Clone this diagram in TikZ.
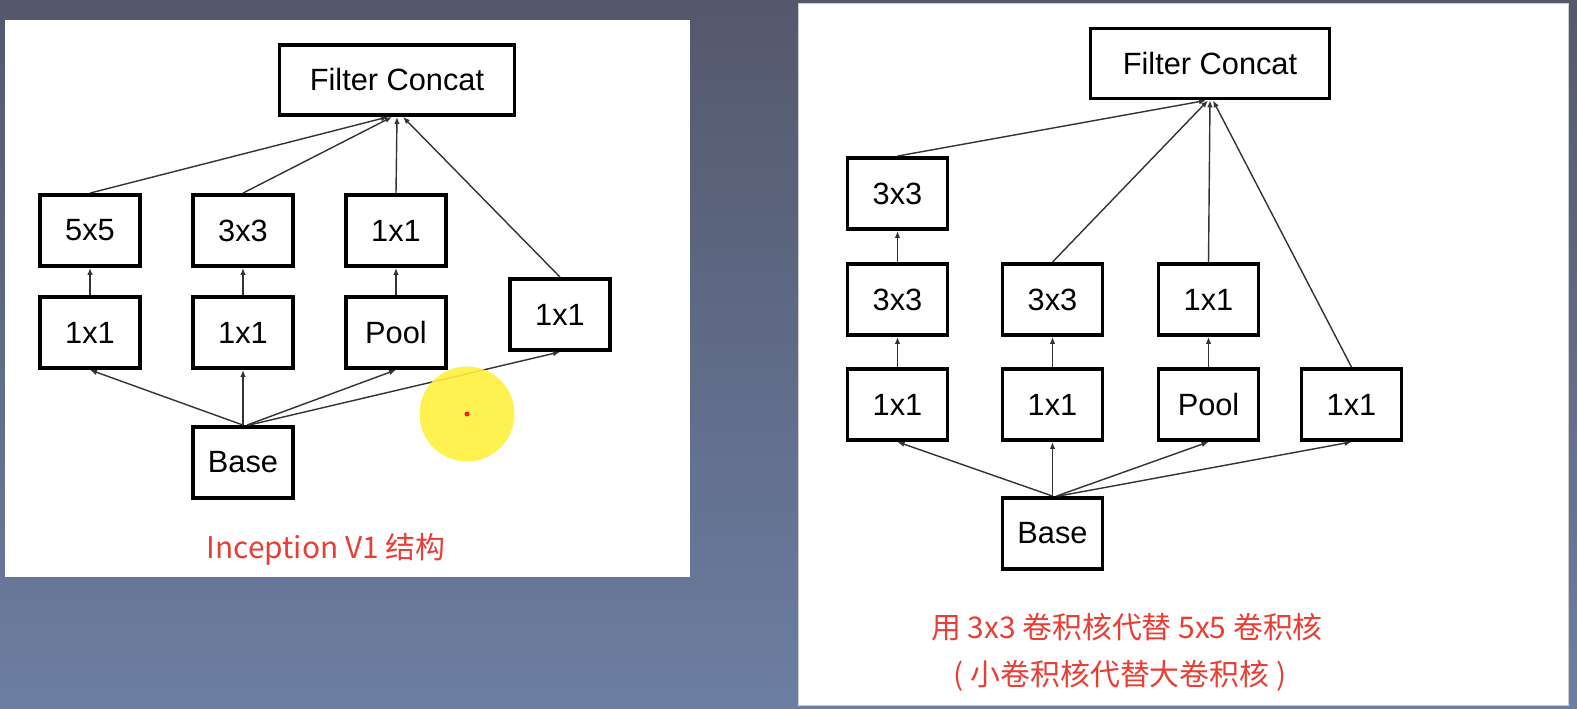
\documentclass[tikz,border=0pt]{standalone}
\usepackage{fontspec}
\setmainfont{Liberation Sans}
\newfontfamily\cjk{Noto Sans CJK SC}
\usepackage{tikz}
\usetikzlibrary{arrows.meta, positioning}

\definecolor{bgtop}{RGB}{84,88,108}
\definecolor{bgbot}{RGB}{108,126,162}
\definecolor{capred}{RGB}{232,62,52}
\definecolor{hilite}{RGB}{255,240,60}

\begin{document}
\begin{tikzpicture}[
    x=0.02cm, y=-0.02cm,
    box/.style={rectangle, draw, line width=2.2pt, fill=white,
                minimum width=2cm, minimum height=1.42cm,
                align=center, font=\fontsize{17.5}{20}\selectfont},
    wide/.style={box, minimum width=4.7cm, minimum height=1.4cm},
    arrow/.style={-{Latex[length=4pt, width=3.2pt]}, line width=0.8pt, draw=black!80},
    caption/.style={font=\cjk\fontsize{17}{20}\selectfont, text=capred, align=center},
  ]

  % background and the two slides (pixel coordinates)
  \shade[top color=bgtop, bottom color=bgbot] (0,0) rectangle (1577,709);
  \useasboundingbox (0,0) rectangle (1577,709);
  \fill[white] (5,20) rectangle (690,577);
  \fill[white, draw=black!20] (798,3) rectangle (1568,705);

  % column x-centres and row y-centres
  \def\xA{90}   \def\xB{243}  \def\xC{396}  \def\xD{560}
  \def\yTop{80} \def\yOne{230.5} \def\yTwo{332.5} \def\yBase{462.5}

  % ── Inception V1 ────────────────────────────────────────────
  \node[wide] (lFC) at (397,\yTop) {Filter Concat};

  \node[box] (lC5) at (\xA,\yOne) {5x5};
  \node[box] (lC3) at (\xB,\yOne) {3x3};
  \node[box] (lP1) at (\xC,\yOne) {1x1};

  \node[box] (lR5) at (\xA,\yTwo) {1x1};
  \node[box] (lR3) at (\xB,\yTwo) {1x1};
  \node[box] (lPool) at (\xC,\yTwo) {Pool};
  \node[box] (lS1) at (\xD,314.5) {1x1};

  \node[box] (lBase) at (\xB,\yBase) {Base};

  \draw[arrow] (lC5.north) -- ([xshift=-0.18cm]lFC.south);
  \draw[arrow] (lC3.north) -- ([xshift=-0.1cm]lFC.south);
  \draw[arrow] (lP1.north) -- (lFC.south);
  \draw[arrow] (lS1.north) -- ([xshift=0.12cm]lFC.south);

  \draw[arrow] (lR5.north) -- (lC5.south);
  \draw[arrow] (lR3.north) -- (lC3.south);
  \draw[arrow] (lPool.north) -- (lP1.south);

  \draw[arrow] (lBase.north) -- (lR5.south);
  \draw[arrow] (lBase.north) -- (lR3.south);
  \draw[arrow] ([xshift=0.08cm]lBase.north) -- (lPool.south);
  \draw[arrow] ([xshift=0.12cm]lBase.north) -- (lS1.south);

  \node[caption] (lCap) at (326,549) {Inception V1 结构};

  % cursor highlight
  \fill[hilite, opacity=0.9] (467,414) circle (0.95cm);
  \fill[red!80!orange] (467,414) circle (0.05cm);

  % ── 3x3 instead of 5x5 ──────────────────────────────────────
  \def\xE{897.5} \def\xF{1052.5} \def\xG{1208.5} \def\xH{1351.5}
  \def\yTopR{63.5} \def\yA{193.5} \def\yB{299.5} \def\yC{404.5} \def\yBaseR{533.5}

  \node[wide, minimum width=4.78cm] (rFC) at (1210,\yTopR) {Filter Concat};

  \node[box] (rT3) at (\xE,\yA) {3x3};

  \node[box] (rM3a) at (\xE,\yB) {3x3};
  \node[box] (rM3b) at (\xF,\yB) {3x3};
  \node[box] (rM1)  at (\xG,\yB) {1x1};

  \node[box] (rB1a) at (\xE,\yC) {1x1};
  \node[box] (rB1b) at (\xF,\yC) {1x1};
  \node[box] (rPool) at (\xG,\yC) {Pool};
  \node[box] (rB1c) at (\xH,\yC) {1x1};

  \node[box] (rBase) at (\xF,\yBaseR) {Base};

  \draw[arrow] (rT3.north) -- ([xshift=-0.08cm]rFC.south);
  \draw[arrow] (rM3b.north) -- ([xshift=-0.04cm]rFC.south);
  \draw[arrow] (rM1.north) -- (rFC.south);
  \draw[arrow] (rB1c.north) -- ([xshift=0.06cm]rFC.south);

  \draw[arrow] (rM3a.north) -- (rT3.south);
  \draw[arrow] (rB1a.north) -- (rM3a.south);
  \draw[arrow] (rB1b.north) -- (rM3b.south);
  \draw[arrow] (rPool.north) -- (rM1.south);

  \draw[arrow] (rBase.north) -- (rB1a.south);
  \draw[arrow] (rBase.north) -- (rB1b.south);
  \draw[arrow] ([xshift=0.08cm]rBase.north) -- (rPool.south);
  \draw[arrow] ([xshift=0.12cm]rBase.north) -- (rB1c.south);

  \node[caption] (rCapA) at (1127,627) {用 3x3 卷积核代替 5x5 卷积核};
  \node[caption] (rCapB) at (1120,676) {(~小卷积核代替大卷积核~)};

\end{tikzpicture}
\end{document}
